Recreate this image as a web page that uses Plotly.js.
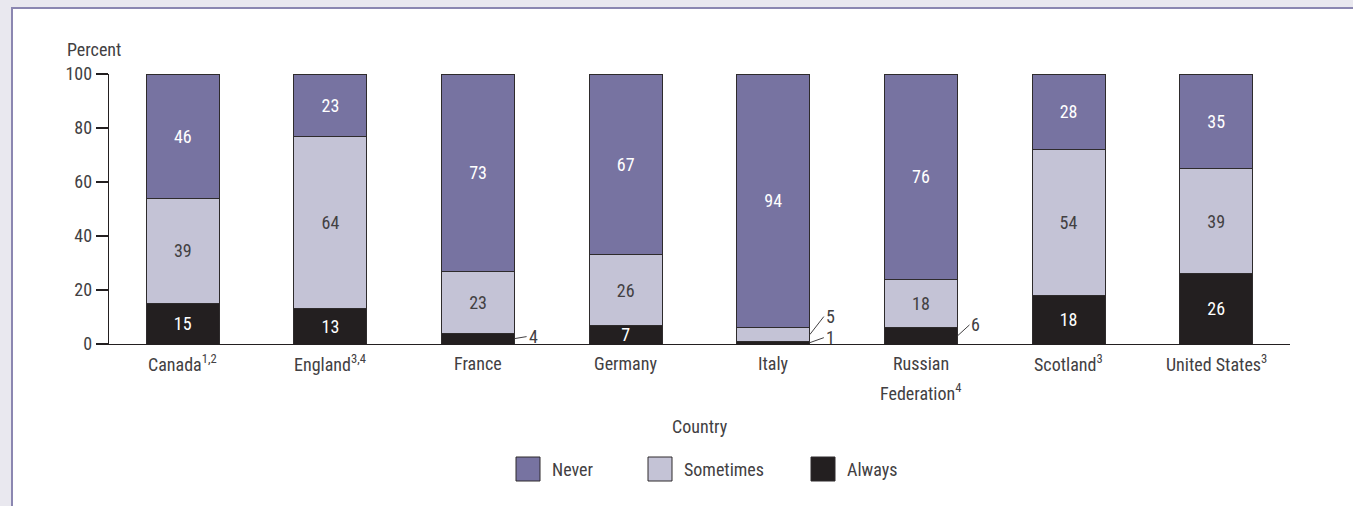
<!DOCTYPE html>
<html>
<head>
<meta charset="utf-8">
<script src="https://cdn.plot.ly/plotly-3.0.1.min.js"></script>
<style>
  html, body { margin:0; padding:0; width:1353px; height:506px; overflow:hidden; background:#e9e8ef; }
  #panel { position:absolute; left:11px; top:7px; width:1360px; height:520px; background:#ffffff;
           border-left:2px solid #8b87b1; border-top:2px solid #8b87b1; }
  #chart { position:absolute; left:0; top:0; width:1353px; height:506px; }
</style>
</head>
<body>
<div id="panel"></div>
<div id="chart"></div>
<script>
// ---- data ----
const categories = ["Canada", "England", "France", "Germany", "Italy", "Russian Federation", "Scotland", "United States"];
const labelLine1 = ["Canada<sup>1,2</sup>", "England<sup>3,4</sup>", "France", "Germany", "Italy", "Russian", "Scotland<sup>3</sup>", "United States<sup>3</sup>"];
const labelLine2 = ["", "", "", "", "", "Federation<sup>4</sup>", "", ""];
const always    = [15, 13, 4, 7, 1, 6, 18, 26];
const sometimes = [39, 64, 23, 26, 5, 18, 54, 39];
const never     = [46, 23, 73, 67, 94, 76, 28, 35];
const seriesNames = ["Never", "Sometimes", "Always"];
const yTicks = [0, 20, 40, 60, 80, 100];

// ---- style ----
const FONT = "'Liberation Sans Narrow', 'Roboto Condensed', 'DejaVu Sans Condensed', sans-serif";
const FS = 18;
const TXT = "#424042";
const C_NEVER = "#7773a1", C_SOME = "#c4c3d6", C_ALWAYS = "#231f20";
const OUTLINE = "#2e2b2c";
const minInside = 7;

function bar(name, vals, color, textColor) {
  return {
    type: "bar", name: name, x: categories, y: vals,
    marker: { color: color, line: { color: OUTLINE, width: 1 } },
    text: vals.map(v => v >= minInside ? String(v) : null),
    textposition: "inside", insidetextanchor: "middle", textangle: 0,
    constraintext: "none",
    textfont: { family: FONT, size: FS, color: textColor },
    hoverinfo: "skip", showlegend: false
  };
}

const traces = [
  bar("Always", always, C_ALWAYS, "#ffffff"),
  bar("Sometimes", sometimes, C_SOME, TXT),
  bar("Never", never, C_NEVER, "#ffffff")
];

const annotations = [];
// category labels
categories.forEach((c, i) => {
  annotations.push({ x: c, xref: "x", y: 0, yref: "paper", yanchor: "middle", yshift: -19,
    text: labelLine1[i], showarrow: false, font: { family: FONT, size: FS, color: TXT } });
  if (labelLine2[i]) {
    annotations.push({ x: c, xref: "x", y: 0, yref: "paper", yanchor: "middle", yshift: -48,
      text: labelLine2[i], showarrow: false, font: { family: FONT, size: FS, color: TXT } });
  }
});
// small-segment labels with leader lines
const halfW = 0.2475;
function leader(idx, yMid, val, ax, ay) {
  annotations.push({ x: idx + halfW, xref: "x", y: yMid, yref: "y", text: String(val),
    showarrow: true, arrowhead: 0, arrowwidth: 1, arrowcolor: TXT, ax: ax, ay: ay,
    standoff: 0, font: { family: FONT, size: FS, color: TXT }, xanchor: "left" });
}
always.forEach((v, i) => { if (v < minInside) leader(i, v / 2, v, i === 4 ? 14 : 12, i === 4 ? -5 : (i === 5 ? -11 : -2)); });
sometimes.forEach((v, i) => { if (v < minInside) leader(i, always[i] + v / 2, v, 14, -18); });

// axis titles
annotations.push({ x: 0.5, xref: "paper", y: 0, yref: "paper", yanchor: "middle", yshift: -82,
  text: "Country", showarrow: false, font: { family: FONT, size: FS, color: TXT } });
annotations.push({ x: 0, xref: "paper", xanchor: "left", xshift: -44, y: 1, yref: "paper", yanchor: "middle", yshift: 25,
  text: "Percent", showarrow: false, font: { family: FONT, size: FS, color: TXT } });

// custom legend
const shapes = [];
const legendItems = [[seriesNames[0], C_NEVER, 407], [seriesNames[1], C_SOME, 539], [seriesNames[2], C_ALWAYS, 702]];
legendItems.forEach(([name, color, px]) => {
  shapes.push({ type: "rect", xref: "paper", yref: "paper", xsizemode: "pixel", ysizemode: "pixel",
    xanchor: 0, yanchor: 0, x0: px, x1: px + 24, y0: -137, y1: -113,
    fillcolor: color, line: { color: OUTLINE, width: 1 } });
  annotations.push({ x: 0, xref: "paper", xanchor: "left", xshift: px + 34, y: 0, yref: "paper",
    yanchor: "middle", yshift: -125, text: name, showarrow: false,
    font: { family: FONT, size: FS, color: TXT } });
});

const layout = {
  width: 1353, height: 506,
  margin: { l: 109, r: 63, t: 74, b: 162 },
  paper_bgcolor: "rgba(0,0,0,0)", plot_bgcolor: "rgba(0,0,0,0)",
  barmode: "stack", bargap: 0.505,
  showlegend: false,
  font: { family: FONT, size: FS, color: TXT },
  xaxis: { type: "category", range: [-0.5, 7.5], showticklabels: false, ticks: "",
    showline: true, linecolor: "#231f20", linewidth: 1.3, showgrid: false, zeroline: false, fixedrange: true },
  yaxis: { range: [0, 100], tickvals: yTicks, ticks: "outside", ticklen: 12, tickwidth: 1.3,
    tickcolor: "#231f20", showline: true, linecolor: "#231f20", linewidth: 1.3, showgrid: false,
    zeroline: false, tickfont: { family: FONT, size: FS, color: TXT }, fixedrange: true },
  annotations: annotations,
  shapes: shapes
};

Plotly.newPlot("chart", traces, layout, { displayModeBar: false, staticPlot: true });
</script>
</body>
</html>
